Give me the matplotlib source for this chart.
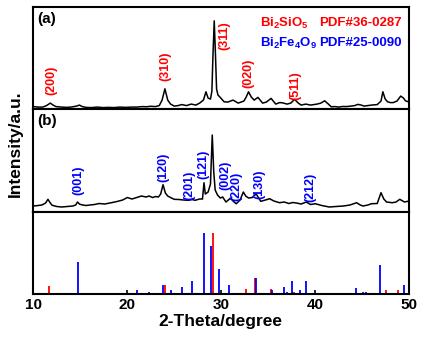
import matplotlib
matplotlib.use("Agg")
import matplotlib.pyplot as plt
import numpy as np

plt.rcParams['font.family'] = ['Liberation Sans', 'DejaVu Sans']
plt.rcParams['font.weight'] = 'bold'
plt.rcParams['mathtext.default'] = 'regular'

# pattern (a) - Bi2SiO5 sample
two_theta_a = [10.0, 10.5, 11.0, 11.4, 11.8, 12.1, 12.4, 13.0, 13.5, 14.0, 14.6, 14.9, 15.2,
               15.6, 16.2, 16.8, 17.4, 18.0, 18.6, 19.2, 19.8, 20.4, 21.0, 21.6, 22.0,
               22.5, 23.0, 23.4, 23.7, 24.0, 24.3, 24.6, 25.0, 25.4, 25.8, 26.3, 26.8,
               27.3, 27.7, 28.1, 28.37, 28.6, 28.85, 29.0, 29.12, 29.25, 29.38, 29.5,
               29.65, 29.86, 30.3, 30.7, 31.25, 31.8, 32.4, 32.65, 32.9, 33.2, 33.5,
               33.9, 34.4, 34.8, 35.3, 35.8, 36.2, 36.5, 37.0, 37.4, 37.8, 38.2, 38.5,
               39.0, 39.5, 40.2, 40.6, 41.0, 41.4, 41.7, 42.1, 42.5, 42.9, 43.3, 43.8,
               44.2, 44.55, 44.9, 45.2, 45.6, 46.0, 46.6, 47.0, 47.2, 47.45, 47.7, 48.0,
               48.3, 48.7, 49.1, 49.4, 49.6, 50.0]
intensity_a = [2.5, 2.0, 2.0, 3.5, 6.0, 4.0, 2.5, 2.0, 1.7, 2.0, 3.0, 4.0, 2.5,
               1.7, 1.5, 2.0, 1.5, 1.7, 1.5, 2.0, 1.7, 2.0, 2.0, 2.5, 2.3,
               2.8, 2.5, 3.5, 9.0, 20.3, 9.0, 5.0, 3.0, 3.5, 4.5, 3.5, 5.0,
               4.0, 6.0, 9.0, 17.3, 11.0, 10.0, 18.0, 55.0, 88.3, 55.0, 20.0,
               14.0, 12.0, 7.3, 7.0, 9.0, 6.0, 8.0, 12.0, 17.3, 12.0, 9.0,
               11.7, 6.0, 7.0, 10.7, 5.0, 6.5, 6.3, 5.0, 6.0, 9.7, 6.0, 4.0,
               5.0, 4.0, 5.0, 6.0, 8.3, 5.0, 2.3, 2.5, 2.0, 2.6, 2.5, 3.0,
               3.5, 4.7, 4.0, 3.0, 3.5, 4.0, 4.5, 8.0, 17.3, 10.0, 7.3, 6.5,
               6.5, 8.0, 13.0, 11.0, 8.3, 7.0]

# pattern (b) - composite sample
two_theta_b = [10.0, 10.5, 10.9, 11.3, 11.55, 11.8, 12.0, 12.5, 13.0, 13.6, 14.2, 14.5,
               14.7, 14.9, 15.1, 15.6, 16.0, 16.5, 17.0, 17.6, 18.3, 18.9, 19.5, 20.0,
               20.5, 21.0, 21.5, 22.0, 22.3, 22.7, 23.0, 23.3, 23.55, 23.8, 24.05, 24.3,
               24.7, 25.0, 25.5, 26.0, 26.5, 26.9, 27.2, 27.7, 28.0, 28.16, 28.3, 28.6,
               28.85, 29.04, 29.2, 29.35, 29.6, 29.9, 30.15, 30.5, 31.0, 31.3, 31.6,
               32.0, 32.35, 32.6, 32.9, 33.3, 33.7, 34.2, 34.7, 35.15, 35.6, 36.2, 36.7,
               37.2, 37.6, 38.0, 38.5, 39.05, 39.5, 40.0, 40.7, 41.5, 42.2, 43.0, 43.7,
               44.4, 44.8, 45.1, 45.6, 46.0, 46.6, 47.0, 47.3, 47.6, 48.2, 48.6, 49.0,
               49.5, 50.0]
intensity_b = [6.0, 6.5, 7.0, 9.0, 12.7, 9.0, 6.7, 5.5, 5.0, 5.5, 6.0, 7.0,
               10.0, 8.0, 7.3, 6.5, 7.0, 7.5, 8.5, 8.0, 9.3, 10.5, 12.0, 14.5,
               13.0, 14.5, 16.0, 15.0, 16.0, 14.5, 15.5, 15.0, 18.0, 27.3, 19.0, 16.0,
               14.0, 12.7, 12.5, 12.0, 11.7, 12.5, 11.7, 13.0, 13.0, 29.3, 18.0, 20.0,
               28.0, 77.0, 40.0, 22.0, 17.0, 14.0, 15.0, 10.0, 14.0, 10.5, 8.3,
               12.0, 20.0, 16.0, 14.0, 14.5, 18.3, 10.7, 12.0, 13.3, 11.0, 9.3, 10.0,
               8.5, 9.5, 9.0, 8.0, 10.0, 7.5, 8.3, 6.5, 5.0, 5.5, 6.0, 7.0,
               9.3, 7.0, 6.0, 7.0, 8.3, 8.5, 19.3, 13.0, 10.0, 9.3, 10.0, 12.7,
               10.0, 11.0]

# reference sticks
bso_pos = [11.65, 23.3, 24.0, 29.15, 32.6, 33.6, 35.3, 37.7, 47.5, 48.8]
bso_int = [13, 2, 15, 100, 8, 26, 8, 3, 6.6, 6.6]
bfo_pos = [14.77, 21.05, 22.3, 23.8, 24.7, 25.8, 26.9, 28.2, 28.9, 29.73, 30.83,
           33.65, 35.4, 36.7, 36.95, 37.5, 38.4, 39.0, 44.3, 45.1, 45.4, 46.9, 49.4]
bfo_int = [52, 6.6, 3.3, 15, 6.6, 11, 21, 100, 79, 41, 15,
           26, 6, 11, 3, 21, 6.6, 21, 9, 3, 3, 48, 15]

# peak labels
labels_a = ['(200)', '(310)', '(311)', '(020)', '(511)']
labels_a_x = [11.9, 24.0, 30.3, 32.85, 37.85]
labels_a_y = [14, 28, 59, 21, 9]
labels_b = ['(001)', '(120)', '(201)', '(121)', '(002)', '(220)', '(130)', '(212)']
labels_b_x = [14.74, 23.8, 26.6, 28.05, 30.4, 31.6, 34.1, 39.45]
labels_b_y = [16.7, 30, 11.7, 33.3, 22, 10.7, 12.7, 10]

red = '#ff0000'
blue = '#0000ff'

fig = plt.figure(figsize=(4.28, 3.41), dpi=100)
gs = fig.add_gridspec(3, 1, height_ratios=[102, 103, 82], hspace=0,
                      left=0.078, right=0.956, bottom=0.138, top=0.979)
ax1 = fig.add_subplot(gs[0])
ax2 = fig.add_subplot(gs[1], sharex=ax1)
ax3 = fig.add_subplot(gs[2], sharex=ax1)

ax1.plot(two_theta_a, intensity_a, color='black', lw=1.1)
ax1.set_ylim(0, 102)
for t, x, y in zip(labels_a, labels_a_x, labels_a_y):
    ax1.text(x, y, t, color=red, rotation=90, ha='center', va='bottom', fontsize=9)
ax1.text(0.01, 0.88, '(a)', transform=ax1.transAxes, fontsize=11, va='center')
ax1.text(34.1, 86, 'Bi$_2$SiO$_5$', color=red, fontsize=9.5, va='center')
ax1.text(40.4, 86, 'PDF#36-0287', color=red, fontsize=9.5, va='center')
ax1.text(34.1, 66, 'Bi$_2$Fe$_4$O$_9$', color=blue, fontsize=9.5, va='center')
ax1.text(40.4, 66, 'PDF#25-0090', color=blue, fontsize=9.5, va='center')

ax2.plot(two_theta_b, intensity_b, color='black', lw=1.1)
ax2.set_ylim(0, 103)
for t, x, y in zip(labels_b, labels_b_x, labels_b_y):
    ax2.text(x, y, t, color=blue, rotation=90, ha='center', va='bottom', fontsize=9)
ax2.text(0.01, 0.88, '(b)', transform=ax2.transAxes, fontsize=11, va='center')

ax3.vlines(bso_pos, 0, bso_int, color=red, lw=1.3)
ax3.vlines(bfo_pos, 0, bfo_int, color=blue, lw=1.3)
ax3.set_ylim(0, 134)

ax3.set_xlim(10, 50)
ax3.set_xticks([10, 20, 30, 40, 50])
for ax in (ax1, ax2, ax3):
    ax.set_yticks([])
    for s in ax.spines.values():
        s.set_linewidth(1.5)
    ax.tick_params(axis='x', direction='in', length=3, width=1.2)
ax1.tick_params(axis='x', labelbottom=False, length=0)
ax2.tick_params(axis='x', labelbottom=False, length=0)
ax3.tick_params(axis='x', labelsize=11, pad=3)

fig.text(0.516, 0.056, '2-Theta/degree', ha='center', va='center', fontsize=12.5)
fig.text(0.035, 0.578, 'Intensity/a.u.', ha='center', va='center', rotation=90, fontsize=12.5)

fig.savefig('out.png', dpi=100, facecolor='white')
